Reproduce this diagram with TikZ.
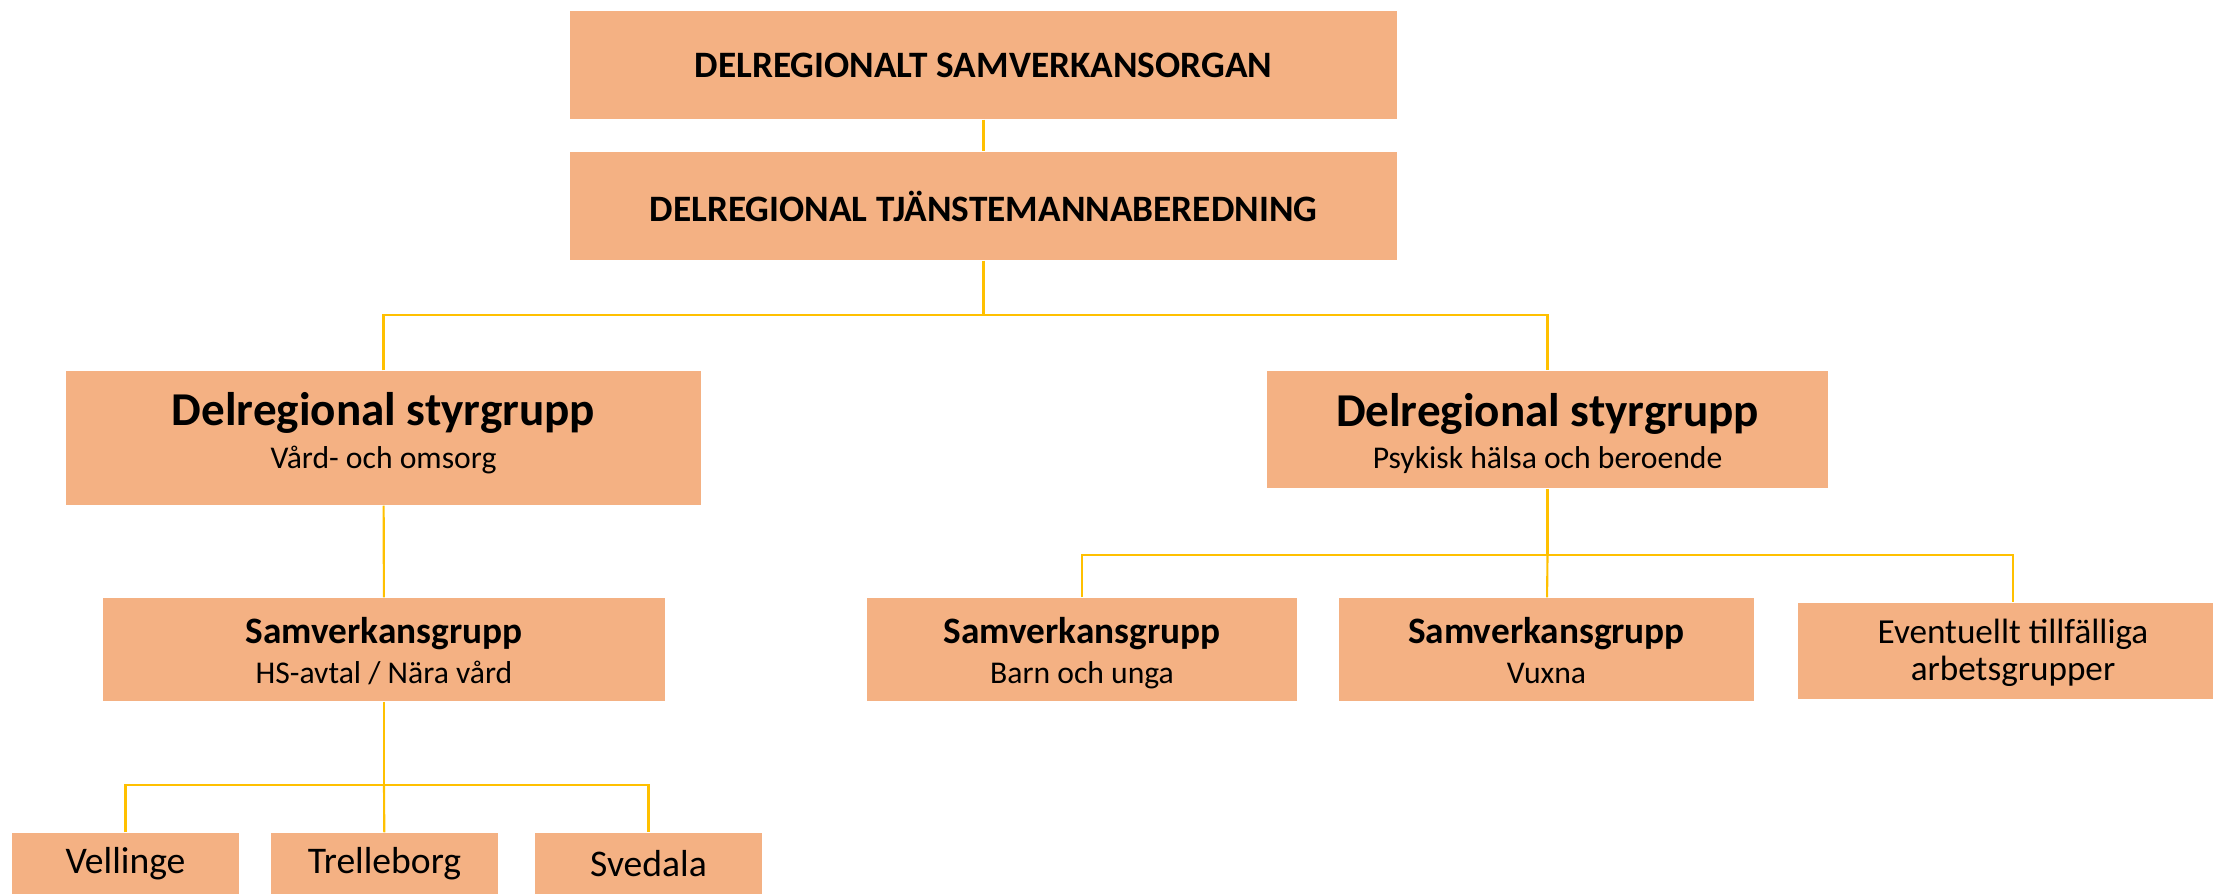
\documentclass[tikz,border=0pt]{standalone}
\usepackage{fontspec}
\setmainfont{Carlito}
\definecolor{boxfill}{HTML}{F4B183}
\definecolor{linkline}{HTML}{FFC000}

\newcommand{\upstrut}[1]{\rule{0pt}{#1}}
\newcommand{\downstrut}[1]{\rule[-#1]{0pt}{#1}}

\tikzset{
    orgbox/.style={fill=boxfill, inner sep=0pt, align=center, text=black},
    link/.style={draw=linkline, line width=0.6pt},
}

\begin{document}
\begin{tikzpicture}[x=0.01cm, y=-0.01cm]
    \useasboundingbox (0,0) rectangle (2213,894);
    \clip (0,0) rectangle (2213,894);
    % top of the organisation
    \node[orgbox, minimum width=8.27cm, minimum height=1.08cm, font=\fontsize{10.6}{12}\selectfont\bfseries] (organ) at (983.5,65) {DELREGIONALT SAMVERKANSORGAN};
    \node[orgbox, minimum width=8.27cm, minimum height=1.08cm, font=\fontsize{10.6}{12}\selectfont\bfseries] (tjm) at (983.5,206) {DELREGIONAL TJÄNSTEMANNABEREDNING};
    % styrgrupper
    \node[orgbox, minimum width=6.35cm, minimum height=1.34cm, font=\fontsize{9}{0.42cm}\selectfont] (styrL) at (383.5,438) {{\fontsize{13.4}{0.42cm}\selectfont\bfseries\upstrut{0.40cm}Delregional styrgrupp}\\Vård- och omsorg\downstrut{0.22cm}};
    \node[orgbox, minimum width=5.61cm, minimum height=1.17cm, font=\fontsize{9}{0.42cm}\selectfont] (styrR) at (1547.5,429.5) {{\fontsize{13.4}{0.42cm}\selectfont\bfseries\upstrut{0.45cm}Delregional styrgrupp}\\Psykisk hälsa och beroende\downstrut{0.10cm}};
    % samverkansgrupper
    \node[orgbox, minimum width=5.62cm, minimum height=1.03cm, font=\fontsize{9}{0.40cm}\selectfont] (hs) at (384,649.5) {{\fontsize{10.6}{0.40cm}\selectfont\bfseries\upstrut{0.37cm}Samverkansgrupp}\\HS-avtal / Nära vård\downstrut{0.10cm}};
    \node[orgbox, minimum width=4.30cm, minimum height=1.03cm, font=\fontsize{9}{0.40cm}\selectfont] (barn) at (1082,649.5) {{\fontsize{10.6}{0.40cm}\selectfont\bfseries\upstrut{0.37cm}Samverkansgrupp}\\Barn och unga\downstrut{0.10cm}};
    \node[orgbox, minimum width=4.15cm, minimum height=1.03cm, font=\fontsize{9}{0.40cm}\selectfont] (vuxna) at (1546.5,649.5) {{\fontsize{10.6}{0.40cm}\selectfont\bfseries\upstrut{0.37cm}Samverkansgrupp}\\Vuxna\downstrut{0.10cm}};
    \node[orgbox, minimum width=4.30cm, minimum height=0.96cm, font=\fontsize{10}{0.37cm}\selectfont] (tillf) at (2013,651) {\upstrut{0.33cm}Eventuellt tillfälliga\\arbetsgrupper\downstrut{0.12cm}};
    % kommuner
    \node[orgbox, minimum width=2.27cm, minimum height=0.61cm, font=\fontsize{10.7}{13}\selectfont] (vell) at (125.5,863.5) {Vellinge};
    \node[orgbox, minimum width=2.27cm, minimum height=0.61cm, font=\fontsize{10.7}{13}\selectfont] (trel) at (384.5,863.5) {Trelleborg};
    \node[orgbox, minimum width=2.27cm, minimum height=0.61cm, font=\fontsize{10.7}{13}\selectfont] (sved) at (648.5,863.5) {Svedala};

    \coordinate (barA) at (983.5,315);
    \coordinate (barB) at (384,785);
    \coordinate (barC) at (1547.5,555);

    \draw[link] (organ) to (tjm);
    \draw[link] (tjm) to (barA);
    \draw[link] (styrL.north) |- (barA) -| (styrR.north);
    \draw[link] (styrL) to (hs);
    \draw[link] (hs) to (barB);
    \draw[link] (vell.north) |- (barB) -| (sved.north);
    \draw[link] (barB) to (trel);
    \draw[link] (styrR) to (barC);
    \draw[link] (barn.north) |- (barC) -| (tillf.north);
    \draw[link] (barC) to (vuxna);
\end{tikzpicture}
\end{document}
